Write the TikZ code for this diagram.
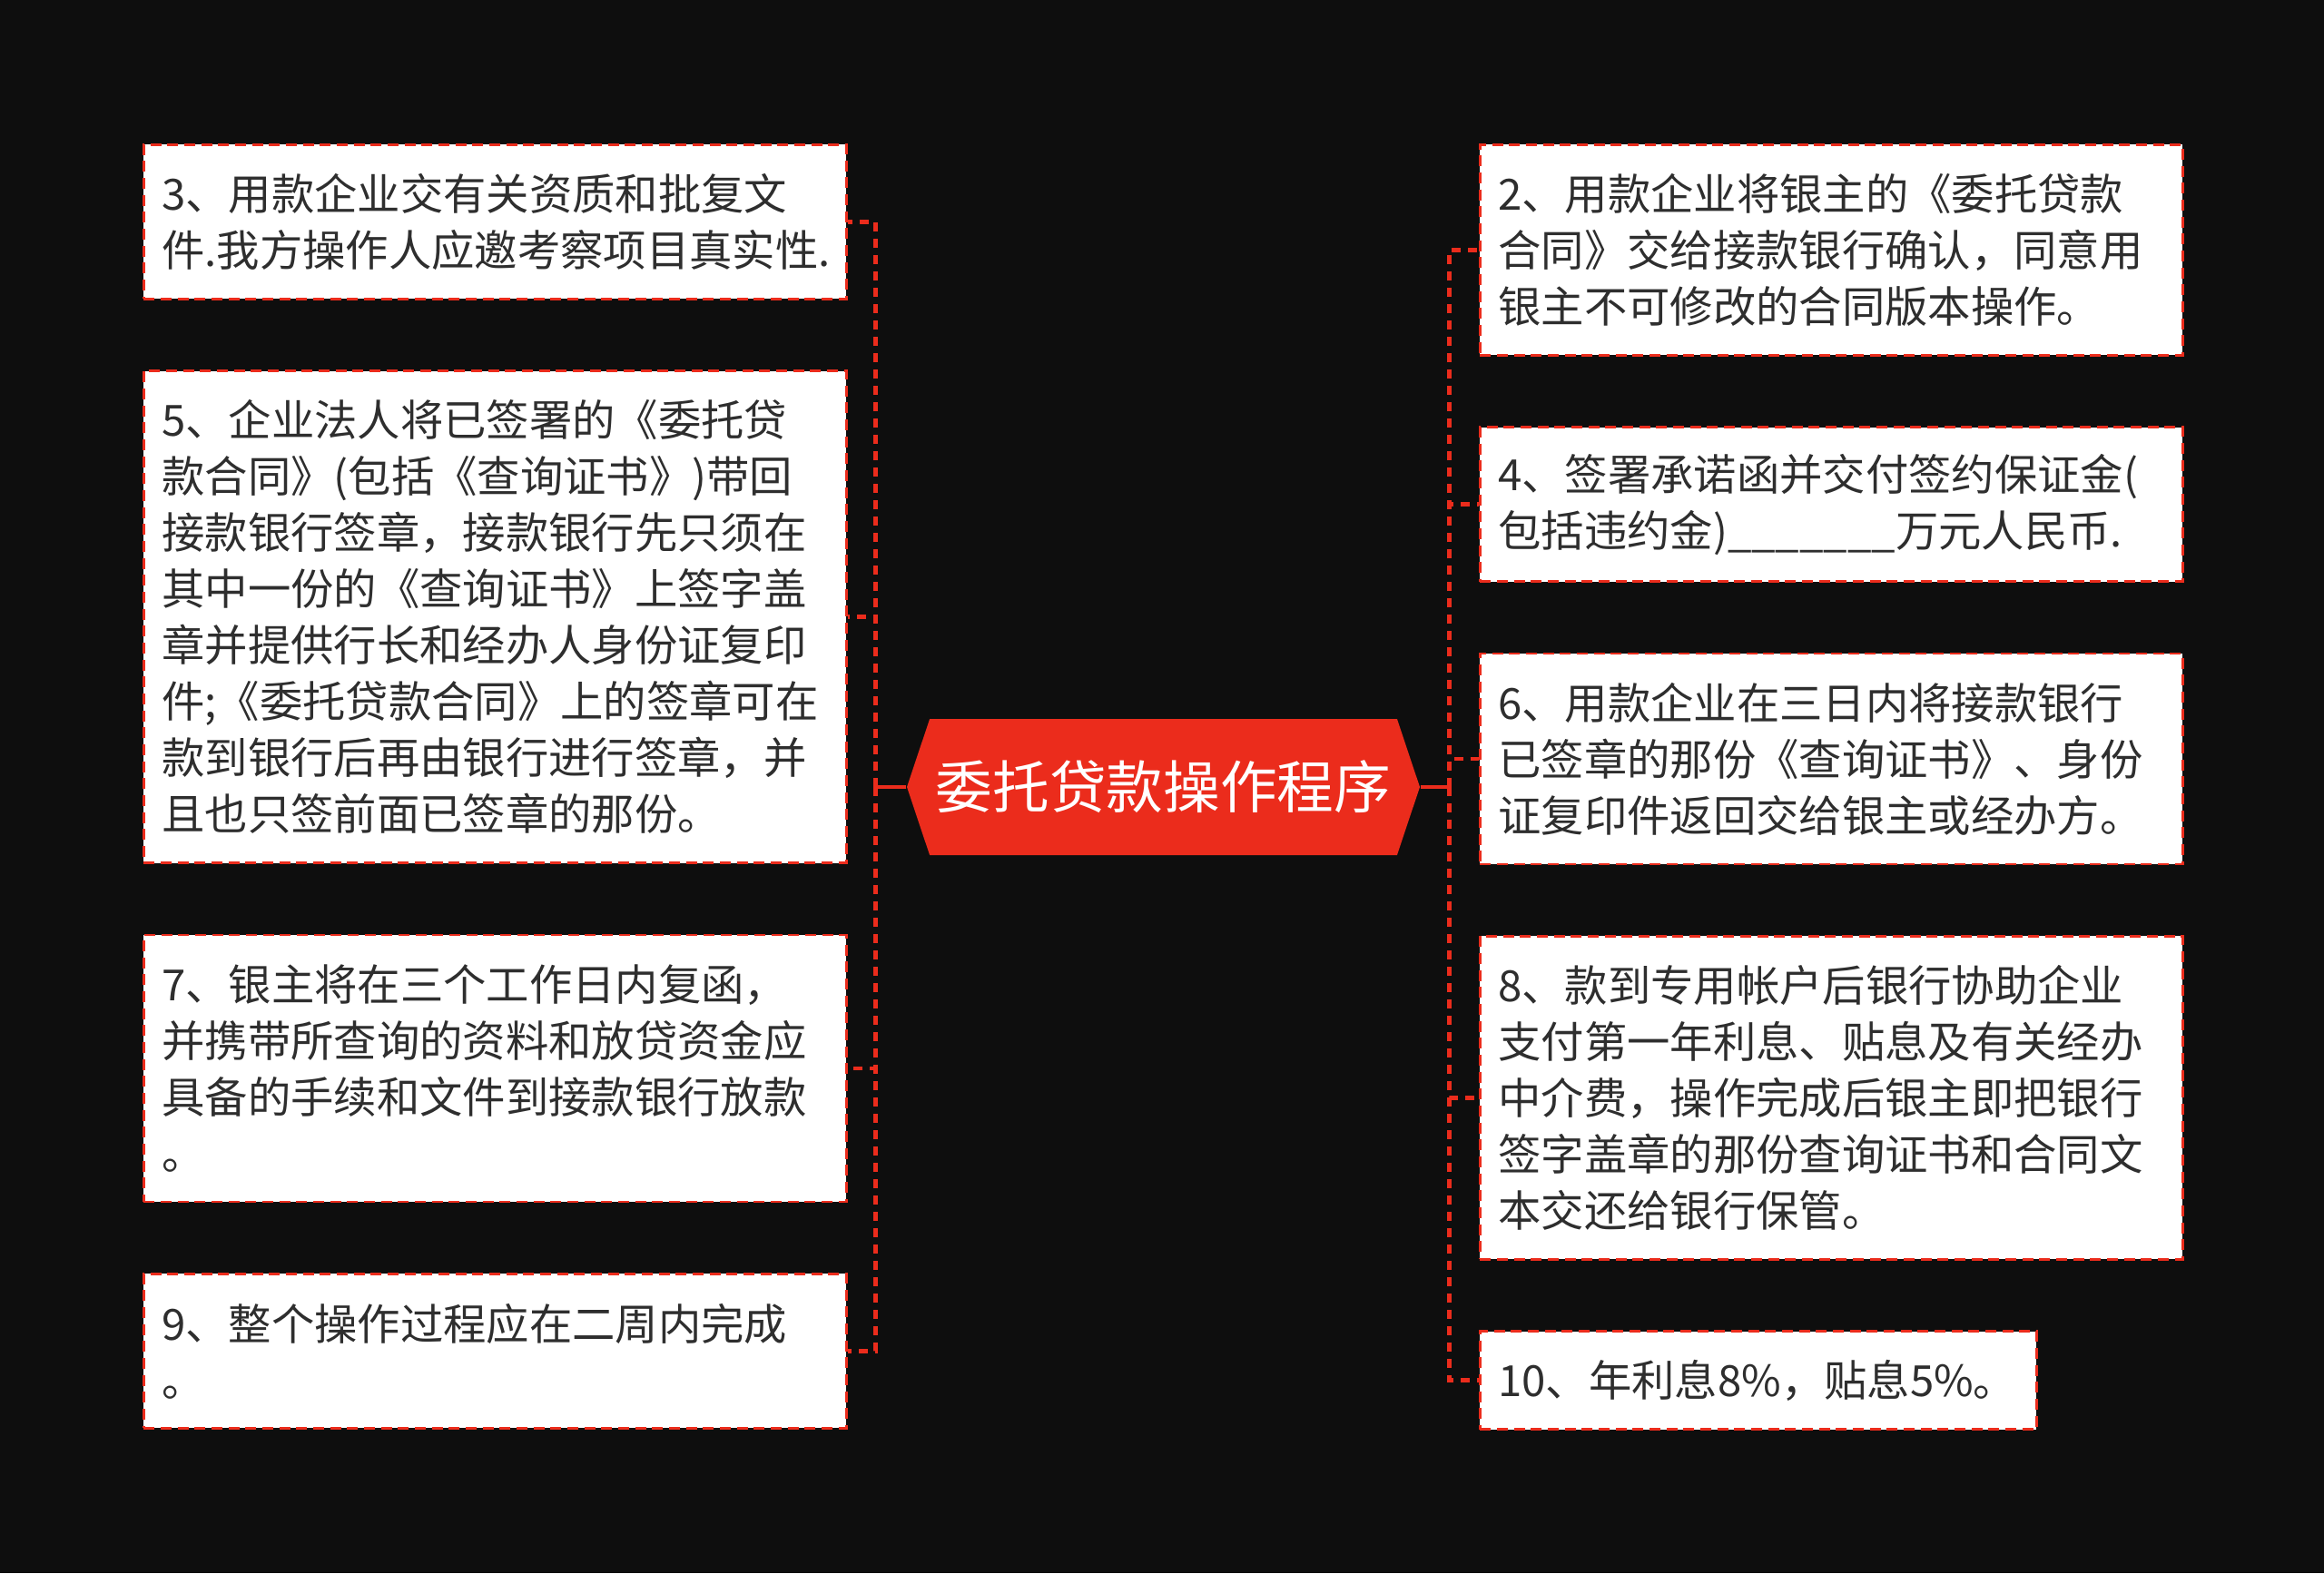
\documentclass[tikz,border=0pt]{standalone}
\usepackage{fontspec}
\setmainfont{Noto Sans CJK SC}
\usepackage{xcolor}
\usetikzlibrary{positioning,shapes.symbols}

\definecolor{bgdark}{HTML}{0E0E0E}
\definecolor{mainred}{HTML}{EB2C1C}
\definecolor{textgray}{HTML}{2E2E2E}

\tikzset{
	topic/.style={signal, signal to=west and east, signal pointer angle=143,
			fill=mainred, text=white, inner sep=0pt,
			minimum width=169.5pt, minimum height=45pt,
			font=\fontsize{18.8pt}{22pt}\selectfont},
	stepbox/.style={draw=mainred, fill=white, line width=0.8pt,
			dash pattern=on 3.6pt off 2pt,
			text=textgray, align=left, inner xsep=6pt, inner ysep=0pt,
			text width=220.2pt, minimum width=232.2pt,
			font=\fontsize{14.2pt}{18.6pt}\selectfont},
	stem/.style={draw=mainred, line width=1.4pt},
	link/.style={draw=mainred, line width=1.4pt, dash pattern=on 3pt off 2.4pt}
}

\begin{document}
\begin{tikzpicture}[node distance=23pt]
		\fill[bgdark] (0,0) rectangle (768pt,-519.9pt);
		\useasboundingbox (0,0) rectangle (768pt,-519.9pt);

		\node[topic] (root) at (384.45pt,-260.1pt) {委托贷款操作程序};

		% left side
		\node[stepbox, anchor=north west, minimum height=51pt] (b3) at (47.1pt,-47.4pt)
			{3、用款企业交有关资质和批复文\\件.我方操作人应邀考察项目真实性.};
		\node[stepbox, minimum height=162.6pt, below=of b3] (b5)
			{5、企业法人将已签署的《委托贷\\款合同》(包括《查询证书》)带回\\接款银行签章，接款银行先只须在\\其中一份的《查询证书》上签字盖\\章并提供行长和经办人身份证复印\\件;《委托贷款合同》上的签章可在\\款到银行后再由银行进行签章，并\\且也只签前面已签章的那份。};
		\node[stepbox, minimum height=88.2pt, below=of b5] (b7)
			{7、银主将在三个工作日内复函，\\并携带所查询的资料和放贷资金应\\具备的手续和文件到接款银行放款\\。};
		\node[stepbox, minimum height=51pt, below=of b7] (b9)
			{9、整个操作过程应在二周内完成\\。};

		% right side
		\node[stepbox, anchor=north west, minimum height=69.6pt] (b2) at (488.7pt,-47.4pt)
			{2、用款企业将银主的《委托贷款\\合同》交给接款银行确认，同意用\\银主不可修改的合同版本操作。};
		\node[stepbox, minimum height=51pt, below=of b2] (b4)
			{4、签署承诺函并交付签约保证金(\\包括违约金)\_\_\_\_\_\_\_万元人民币.};
		\node[stepbox, minimum height=69.6pt, below=of b4] (b6)
			{6、用款企业在三日内将接款银行\\已签章的那份《查询证书》、身份\\证复印件返回交给银主或经办方。};
		\node[stepbox, minimum height=106.8pt, below=of b6] (b8)
			{8、款到专用帐户后银行协助企业\\支付第一年利息、贴息及有关经办\\中介费，操作完成后银主即把银行\\签字盖章的那份查询证书和合同文\\本交还给银行保管。};
		\node[stepbox, minimum height=32.4pt, text width=171.9pt, minimum width=183.9pt,
			below=of b8.south west, anchor=north west] (b10)
			{10、年利息8\%，贴息5\%。};

		% connectors
		\coordinate (lj) at ([xshift=-10.2pt]root.west);
		\coordinate (rj) at ([xshift=9.6pt]root.east);
		\draw[stem] (root.west) -- (lj);
		\draw[stem] (root.east) -- (rj);
		\foreach \n in {b3,b5,b7,b9}
			\draw[link] (lj) |- (\n.east);
		\foreach \n in {b2,b4,b6,b8,b10}
			\draw[link] (rj) |- (\n.west);
	\end{tikzpicture}
\end{document}
